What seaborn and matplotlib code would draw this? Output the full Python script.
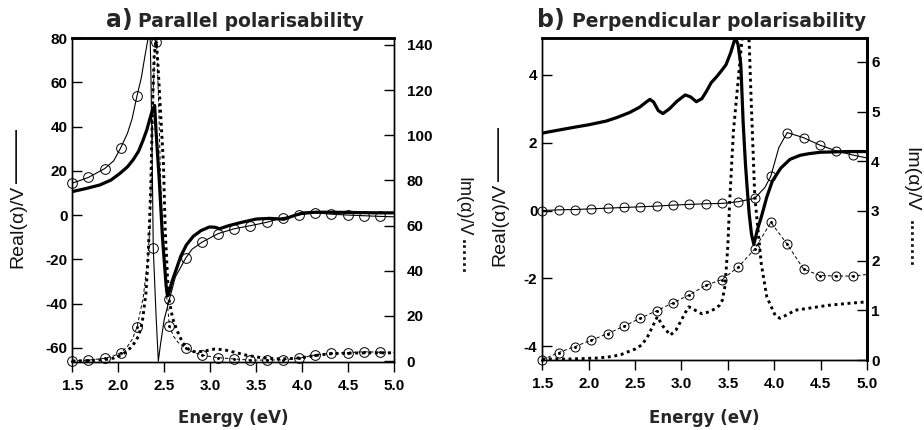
import numpy as np
import pandas as pd
import matplotlib
matplotlib.use("Agg")
import matplotlib.pyplot as plt
import seaborn as sns

# ---------------- data ----------------
# Panel a: parallel polarisability
a_re_x = [1.50, 1.65, 1.80, 1.92, 2.02, 2.10, 2.16, 2.22, 2.27, 2.31, 2.34, 2.37, 2.395,
          2.41, 2.445, 2.48, 2.52, 2.535, 2.56, 2.58, 2.63, 2.68, 2.74, 2.815, 2.90, 2.99,
          3.05, 3.10, 3.20, 3.34, 3.50, 3.65, 3.80, 3.90, 4.00, 4.15, 4.50, 4.80, 5.00]
a_re_y = [10.6, 12.0, 13.6, 15.8, 18.9, 21.8, 24.9, 28.8, 33.9, 38.5, 43.0, 47.3, 49.5,
          38.0, 16.0, -10.0, -32.0, -36.5, -34.0, -30.5, -24.5, -18.5, -13.5, -9.6, -7.0, -5.4,
          -5.5, -6.2, -4.8, -3.3, -1.8, -1.5, -1.9, -0.4, 0.9, 1.3, 1.2, 1.0, 1.0]

a_remod_x = [1.50, 1.676, 1.852, 1.95, 2.028, 2.10, 2.15, 2.204, 2.25, 2.29, 2.32, 2.345,
             2.355, 2.37, 2.38, 2.41, 2.435, 2.46, 2.50, 2.556, 2.62, 2.732, 2.80, 2.908,
             3.084, 3.26, 3.436, 3.612, 3.788, 3.964, 4.14, 4.316, 4.492, 4.668, 4.844, 5.00]
a_remod_y = [14.4, 17.0, 21.0, 24.5, 30.5, 37.0, 43.5, 54.0, 62.0, 72.0, 79.0, 83.0,
             62.0, 20.0, -15.0, -45.0, -66.0, -58.0, -47.0, -38.0, -28.0, -19.5, -15.5, -12.3,
             -8.4, -6.2, -4.8, -3.3, -1.2, 0.1, 1.0, 0.4, 0.0, -0.3, -0.6, -0.8]
a_remod_cx = [1.50, 1.676, 1.852, 2.028, 2.204, 2.38, 2.556, 2.732, 2.908, 3.084,
              3.26, 3.436, 3.612, 3.788, 3.964, 4.14, 4.316, 4.492, 4.668, 4.844]
a_remod_cy = [14.4, 17.0, 21.0, 30.5, 54.0, -15.0, -38.0, -19.5, -12.3, -8.4,
              -6.2, -4.8, -3.3, -1.2, 0.1, 1.0, 0.4, 0.0, -0.3, -0.6]

a_im_x = [1.50, 1.70, 1.85, 1.95, 2.05, 2.15, 2.22, 2.26, 2.30, 2.32, 2.34, 2.355, 2.37,
          2.39, 2.41, 2.43, 2.45, 2.49, 2.51, 2.545, 2.59, 2.635, 2.70, 2.78, 2.85, 2.95,
          3.05, 3.15, 3.25, 3.40, 3.55, 3.70, 3.85, 4.00, 4.15, 4.30, 4.50, 4.70, 5.00]
a_im_y = [0.0, 0.2, 0.6, 1.3, 3.0, 6.4, 11.0, 17.0, 30.0, 43.0, 62.0, 80.0, 110.0,
          135.0, 143.0, 132.0, 117.0, 88.0, 58.0, 28.6, 19.0, 13.8, 8.0, 4.5, 4.0, 4.5,
          5.3, 5.0, 4.0, 2.5, 1.5, 1.0, 1.0, 1.5, 2.5, 3.2, 3.5, 3.6, 3.6]

a_immod_x = [1.50, 1.676, 1.852, 1.95, 2.028, 2.10, 2.15, 2.204, 2.27, 2.32, 2.345, 2.365,
             2.38, 2.40, 2.42, 2.44, 2.46, 2.49, 2.52, 2.556, 2.60, 2.65, 2.732, 2.82, 2.908,
             3.00, 3.084, 3.26, 3.436, 3.612, 3.788, 3.964, 4.14, 4.316, 4.492, 4.668, 4.844, 5.00]
a_immod_y = [0.0, 0.4, 1.2, 2.3, 3.7, 6.5, 9.5, 15.0, 28.0, 45.0, 60.0, 90.0,
             120.0, 142.0, 138.0, 112.0, 80.0, 52.0, 31.0, 15.5, 11.0, 8.2, 5.8, 3.8, 2.7,
             2.0, 1.5, 0.9, 0.4, 0.4, 0.5, 1.2, 2.7, 3.4, 3.7, 4.1, 3.9, 3.8]
a_immod_cx = [1.50, 1.676, 1.852, 2.028, 2.204, 2.41, 2.556, 2.732, 2.908, 3.084,
              3.26, 3.436, 3.612, 3.788, 3.964, 4.14, 4.316, 4.492, 4.668, 4.844]
a_immod_cy = [0.0, 0.4, 1.2, 3.7, 15.0, 141.5, 15.5, 5.8, 2.7, 1.5,
              0.9, 0.4, 0.4, 0.5, 1.2, 2.7, 3.4, 3.7, 4.1, 3.9]

# Panel b: perpendicular polarisability
b_re_x = [1.50, 1.53, 1.83, 2.00, 2.19, 2.30, 2.44, 2.55, 2.62, 2.66, 2.70, 2.75, 2.80,
          2.87, 2.95, 3.04, 3.10, 3.16, 3.22, 3.27, 3.32, 3.38, 3.43, 3.48, 3.53, 3.58,
          3.61, 3.64, 3.665, 3.69, 3.71, 3.73, 3.755, 3.78, 3.82, 3.86, 3.92, 3.98, 4.07,
          4.17, 4.28, 4.38, 4.50, 4.65, 4.80, 5.00]
b_re_y = [2.28, 2.30, 2.45, 2.53, 2.64, 2.74, 2.89, 3.05, 3.20, 3.28, 3.20, 2.95, 2.86,
          3.00, 3.22, 3.41, 3.35, 3.21, 3.30, 3.52, 3.77, 3.95, 4.12, 4.30, 4.65, 5.10,
          4.90, 4.30, 2.60, 1.36, 0.60, -0.10, -0.70, -1.00, -0.55, -0.20, 0.40, 0.87, 1.25,
          1.51, 1.63, 1.68, 1.72, 1.73, 1.74, 1.74]

b_remod_x = [1.50, 1.676, 1.852, 2.028, 2.204, 2.38, 2.556, 2.732, 2.908, 3.084, 3.26,
             3.436, 3.612, 3.788, 3.90, 3.964, 4.05, 4.14, 4.316, 4.492, 4.668, 4.844, 5.00]
b_remod_y = [0.00, 0.02, 0.03, 0.05, 0.07, 0.09, 0.11, 0.13, 0.16, 0.18, 0.20,
             0.21, 0.26, 0.36, 0.68, 1.02, 1.86, 2.30, 2.15, 1.93, 1.76, 1.64, 1.55]
b_remod_cx = [1.50, 1.676, 1.852, 2.028, 2.204, 2.38, 2.556, 2.732, 2.908, 3.084,
              3.26, 3.436, 3.612, 3.788, 3.964, 4.14, 4.316, 4.492, 4.668, 4.844]
b_remod_cy = [0.00, 0.02, 0.03, 0.05, 0.07, 0.09, 0.11, 0.13, 0.16, 0.18,
              0.20, 0.21, 0.26, 0.36, 1.02, 2.30, 2.15, 1.93, 1.76, 1.64]

b_im_x = [1.50, 1.80, 2.10, 2.25, 2.35, 2.43, 2.50, 2.57, 2.63, 2.68, 2.74, 2.80, 2.88,
          2.94, 2.99, 3.04, 3.08, 3.15, 3.22, 3.30, 3.36, 3.41, 3.44, 3.47, 3.50, 3.52,
          3.56, 3.61, 3.65, 3.69, 3.73, 3.75, 3.79, 3.86, 3.92, 4.01, 4.06, 4.15, 4.22,
          4.40, 4.58, 4.80, 5.00]
b_im_y = [0.02, 0.02, 0.04, 0.07, 0.11, 0.17, 0.22, 0.30, 0.45, 0.64, 0.87, 0.68, 0.50,
          0.60, 0.77, 0.95, 1.07, 1.00, 0.93, 0.97, 1.03, 1.10, 1.20, 1.50, 2.30, 3.20,
          4.60, 5.60, 6.40, 6.90, 6.40, 5.30, 3.30, 1.94, 1.27, 0.90, 0.84, 0.92, 1.00,
          1.05, 1.10, 1.14, 1.17]

b_immod_x = [1.50, 1.676, 1.852, 2.028, 2.204, 2.38, 2.556, 2.732, 2.908, 3.084, 3.26,
             3.436, 3.612, 3.788, 3.964, 4.14, 4.316, 4.492, 4.668, 4.844, 5.00]
b_immod_y = [0.00, 0.15, 0.27, 0.40, 0.53, 0.68, 0.84, 0.99, 1.15, 1.31, 1.50,
             1.62, 1.87, 2.23, 2.77, 2.33, 1.83, 1.70, 1.69, 1.69, 1.72]
b_immod_cx = b_immod_x[:-1]
b_immod_cy = b_immod_y[:-1]

x_ticks = [1.5, 2.0, 2.5, 3.0, 3.5, 4.0, 4.5, 5.0]
x_ticklabels = ["1.5", "2.0", "2.5", "3.0", "3.5", "4.0", "4.5", "5.0"]
a_left_ticks = [-60, -40, -20, 0, 20, 40, 60, 80]
a_right_ticks = [0, 20, 40, 60, 80, 100, 120, 140]
b_left_ticks = [-4, -2, 0, 2, 4]
b_right_ticks = [0, 1, 2, 3, 4, 5, 6]

titles_prefix = ["a)", "b)"]
titles_text = ["Parallel polarisability", "Perpendicular polarisability"]
xlabel = "Energy (eV)"
ylabel_left = "Real(α)/V"
ylabel_right = "Im(α)/V"

# ---------------- style ----------------
sns.set_theme(style="ticks")
plt.rcParams["font.family"] = ["Liberation Sans", "DejaVu Sans"]
plt.rcParams["axes.unicode_minus"] = False
plt.rcParams["axes.edgecolor"] = "black"

W, H = 924, 430
fig = plt.figure(figsize=(W / 100, H / 100), dpi=100)
fig.patch.set_facecolor("white")


def px(x, y):
    return x / W, 1 - y / H


def make_axes(l, t, r, b):
    x0, y1 = px(l, t)
    x1, y0 = px(r, b)
    return fig.add_axes([x0, y0, x1 - x0, y1 - y0])


axa = make_axes(72.3, 38, 394.3, 362)
axb = make_axes(542.3, 38, 867, 360)
axa2 = axa.twinx()
axb2 = axb.twinx()

THICK = dict(color="black", lw=2.3, solid_capstyle="round")
THIN = dict(color="black", lw=0.8)
DOTTED = dict(color="black", lw=2.1, linestyle=(0, (1.0, 1.25)), dash_capstyle="butt")
DASHED = dict(color="black", lw=0.7, linestyle=(0, (3.5, 2.5)))


def line(ax, x, y, style):
    df = pd.DataFrame({"x": x, "y": y})
    sns.lineplot(data=df, x="x", y="y", ax=ax, estimator=None, sort=False, **style)


def circles(ax, x, y, dotted=False):
    ax.plot(x, y, "o", ms=7 if ax in (axa, axa2) else 6.5, mfc="none", mec="black",
            mew=0.7, clip_on=False, zorder=5)
    if dotted:
        ax.plot(x, y, ".", ms=2.2, color="black", clip_on=False, zorder=5)


# Panel a
line(axa, a_re_x, a_re_y, THICK)
line(axa, a_remod_x, a_remod_y, THIN)
circles(axa, a_remod_cx, a_remod_cy)
line(axa2, a_im_x, a_im_y, DOTTED)
line(axa2, a_immod_x, a_immod_y, DASHED)
circles(axa2, a_immod_cx, a_immod_cy, dotted=True)

# Panel b
line(axb, b_re_x, b_re_y, THICK)
line(axb, b_remod_x, b_remod_y, THIN)
circles(axb, b_remod_cx, b_remod_cy)
line(axb2, b_im_x, b_im_y, DOTTED)
line(axb2, b_immod_x, b_immod_y, DASHED)
circles(axb2, b_immod_cx, b_immod_cy, dotted=True)

tick_font = dict(family=["Liberation Sans", "DejaVu Sans"], weight="bold", size=11)

for ax, ax2, ylim, ylim2, lt, rt, rpad in [
        (axa, axa2, (-66.4, 80), (-0.44, 143.1), a_left_ticks, a_right_ticks, 9),
        (axb, axb2, (-4.41, 5.09), (0.0, 6.48), b_left_ticks, b_right_ticks, 3)]:
    ax.set_xlim(1.5, 5.0)
    ax.set_ylim(*ylim)
    ax2.set_ylim(*ylim2)
    ax.set_xticks(x_ticks)
    ax.set_xticklabels(x_ticklabels, fontdict=tick_font)
    ax.set_yticks(lt)
    ax.set_yticklabels([str(v) for v in lt], fontdict=tick_font)
    ax2.set_yticks(rt)
    ax2.set_yticklabels([str(v) for v in rt], fontdict=tick_font)
    ax.set_xlabel("")
    ax.set_ylabel("")
    ax2.set_ylabel("")
    ax.tick_params(axis="x", direction="out", length=7, width=1.0, pad=5, colors="black")
    ax.tick_params(axis="y", direction="in", length=7, width=1.0, pad=3.5, colors="black")
    ax2.tick_params(axis="y", direction="in", length=7, width=1.0, pad=rpad, colors="black")
    for a_ in (ax, ax2):
        for s in a_.spines.values():
            s.set_visible(True)
            s.set_color("black")
            s.set_linewidth(1.0)
        a_.spines["top"].set_linewidth(1.8)
        a_.set_facecolor("none")
    ax.set_facecolor("white")
    ax2.set_zorder(ax.get_zorder() + 1)

axb2.spines["right"].set_linewidth(2.0)
axb.spines["right"].set_linewidth(2.0)

# titles
title_font = ["DejaVu Sans"]
for (xr, xl), pre, txt in zip([(133, 138), (565, 572)], titles_prefix, titles_text):
    fig.text(*px(xr, 27), pre, ha="right", va="baseline", family=title_font,
             weight="bold", size=17)
    fig.text(*px(xl, 27), txt, ha="left", va="baseline", family=title_font,
             weight="bold", size=13.5)

# x labels
for xc in (233.3, 704.6):
    fig.text(*px(xc, 423), xlabel, ha="center", va="baseline", family=title_font,
             weight="bold", size=12)

lab_font = ["Liberation Sans", "DejaVu Sans"]
# left y labels (with solid-line key)
for xc, yb, yk in ((18, 268, 183), (500, 266, 181)):
    fig.text(*px(xc, yb), ylabel_left, rotation=90, rotation_mode="anchor",
             ha="left", va="center", size=14, color="#111111", family=lab_font)
    fig.text(*px(xc, yk), "\u2014\u2014\u2014", rotation=90, rotation_mode="anchor",
             ha="left", va="center", size=13, weight="bold", color="#111111",
             family=lab_font)

# right y labels (with dotted-line key)
for xc, yt, yd, nd, fs in ((463, 177, 239, 6, 13), (911, 147, 220, 8, 14)):
    fig.text(*px(xc, yt), ylabel_right, rotation=270, rotation_mode="anchor",
             ha="left", va="center", size=fs, color="#111111", family=lab_font)
    fig.text(*px(xc - 3, yd), "\u00b7" * nd, rotation=270, rotation_mode="anchor",
             ha="left", va="center", size=13, weight="bold", color="#111111",
             family=lab_font)

fig.savefig("out.png", dpi=100, facecolor="white")
